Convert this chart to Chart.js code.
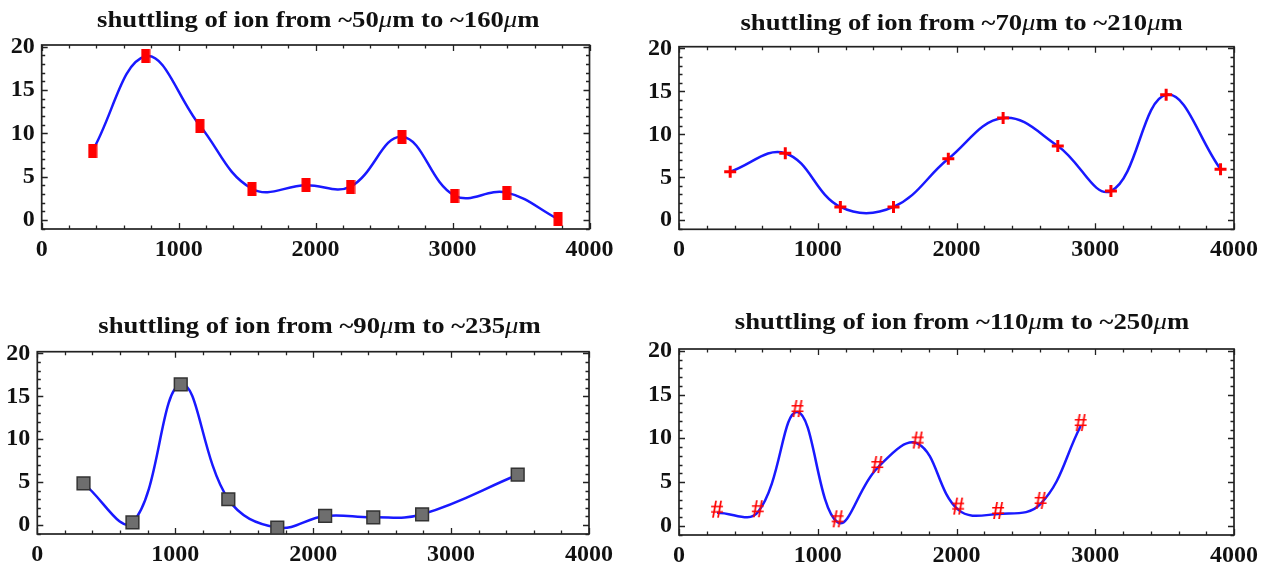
<!DOCTYPE html>
<html>
<head>
<meta charset="utf-8">
<title>shuttling of ion</title>
<script src="https://cdn.jsdelivr.net/npm/chart.js@4.4.0/dist/chart.umd.min.js"></script>
<style>
  body { margin: 0; background: #fff; }
  #wrap { position: relative; width: 1268px; height: 570px; }
  #wrap canvas { position: absolute; }
</style>
</head>
<body>
<div id="wrap">
  <canvas id="c1" width="634" height="285" style="left:0;top:0"></canvas>
  <canvas id="c2" width="634" height="285" style="left:634px;top:0"></canvas>
  <canvas id="c3" width="634" height="285" style="left:0;top:285px"></canvas>
  <canvas id="c4" width="634" height="285" style="left:634px;top:285px"></canvas>
</div>
<script>
// run 1: ~50um -> ~160um
const x1 = [372, 759, 1155, 1535, 1930, 2255, 2630, 3015, 3395, 3770];
const y1 = [8.0, 18.9, 10.9, 3.6, 4.0, 3.85, 9.6, 2.8, 3.15, 0.1];
// run 2: ~70um -> ~210um
const x2 = [369, 766, 1163, 1546, 1941, 2336, 2730, 3113, 3511, 3903];
const y2 = [5.65, 7.8, 1.55, 1.55, 7.15, 11.9, 8.65, 3.4, 14.6, 5.95];
// run 3: ~90um -> ~235um
const x3 = [335, 690, 1040, 1385, 1740, 2087, 2436, 2790, 3483];
const y3 = [4.85, 0.3, 16.4, 3.0, -0.3, 1.05, 0.9, 1.25, 5.86];
// run 4: ~110um -> ~250um
const x4 = [274, 568, 854, 1143, 1429, 1720, 2012, 2300, 2606, 2895];
const y4 = [1.5, 1.55, 13.0, 0.4, 6.6, 9.4, 1.85, 1.35, 2.5, 11.4];

const titles = [
  'shuttling of ion from ~50μm to ~160μm',
  'shuttling of ion from ~70μm to ~210μm',
  'shuttling of ion from ~90μm to ~235μm',
  'shuttling of ion from ~110μm to ~250μm'
];
const xTicks = [0, 1000, 2000, 3000, 4000];
const yTicks = [0, 5, 10, 15, 20];
const xMinor = 200, yMinor = 1;

// plot frame of each panel inside its canvas
const frames = [
  {left: 41.7, right: 589.5, top: 45, bottom: 229, tx: 318.3, ty: 27.3},
  {left: 45, right: 600, top: 46.7, bottom: 229.3, tx: 327.6, ty: 30},
  {left: 37.3, right: 589, top: 66.7, bottom: 249, tx: 319.5, ty: 47.7},
  {left: 45, right: 600, top: 64, bottom: 250, tx: 328, ty: 44.3}
];

const serif = '"Liberation Serif", "Times New Roman", serif';

function markImage(w, h, draw) {
  const c = document.createElement('canvas');
  c.width = w; c.height = h;
  draw(c.getContext('2d'), w, h);
  return c;
}
const redBar = markImage(10, 14, (g, w, h) => {
  g.fillStyle = '#ff0000';
  g.fillRect(0.5, 0, w - 1, h);
});
const hashMark = markImage(22, 28, (g, w, h) => {
  g.fillStyle = '#ff0000';
  g.font = 'bold 25px ' + serif;
  g.textAlign = 'center';
  g.textBaseline = 'middle';
  g.fillText('#', w / 2, h / 2 - 1);
});

// frame with inward major/minor ticks on all four sides
const frameTicks = {
  id: 'frameTicks',
  beforeDatasetsDraw(chart) {
    const {ctx, chartArea: a, scales: {x, y}} = chart;
    ctx.save();
    ctx.strokeStyle = '#222';
    ctx.lineWidth = 1.3;
    ctx.beginPath();
    for (let v = x.min; v <= x.max; v += xMinor) {
      const px = Math.round(x.getPixelForValue(v)) + 0.5;
      const len = xTicks.includes(v) ? 6 : 3.5;
      ctx.moveTo(px, a.bottom); ctx.lineTo(px, a.bottom - len);
      ctx.moveTo(px, a.top); ctx.lineTo(px, a.top + len);
    }
    for (let v = Math.ceil(y.min); v <= y.max; v += yMinor) {
      const py = Math.round(y.getPixelForValue(v)) + 0.5;
      const len = yTicks.includes(v) ? 6 : 3.5;
      ctx.moveTo(a.left, py); ctx.lineTo(a.left + len, py);
      ctx.moveTo(a.right, py); ctx.lineTo(a.right - len, py);
    }
    ctx.stroke();
    ctx.lineWidth = 1.7;
    ctx.strokeRect(a.left, a.top, a.right - a.left, a.bottom - a.top);
    ctx.restore();
  }
};

// title with the mu drawn in italic, set a little wide
const splitTitle = {
  id: 'splitTitle',
  afterDraw(chart, args, opts) {
    const ctx = chart.ctx;
    const up = 'bold 23px ' + serif, it = 'italic 23px ' + serif;
    const bits = [];
    opts.text.split('μ').forEach((s, i) => {
      if (i > 0) bits.push({t: 'μ', f: it});
      bits.push({t: s, f: up});
    });
    ctx.save();
    let w = 0;
    bits.forEach(b => { ctx.font = b.f; b.w = ctx.measureText(b.t).width; w += b.w; });
    ctx.translate(opts.x, opts.y);
    ctx.scale(1.16, 1);
    let px = -w / 2;
    ctx.fillStyle = '#111';
    ctx.textBaseline = 'alphabetic';
    bits.forEach(b => { ctx.font = b.f; ctx.fillText(b.t, px, 0); px += b.w; });
    ctx.restore();
  }
};

function makeChart(id, xs, ys, title, f, marks) {
  const pts = xs.map((v, i) => ({x: v, y: ys[i]}));
  const tickFont = {family: serif, size: 24, weight: 'bold'};
  return new Chart(document.getElementById(id), {
    type: 'line',
    data: {
      datasets: [Object.assign({
        data: pts,
        borderColor: 'rgb(25,25,255)',
        borderWidth: 2.5,
        tension: 0.4,
        fill: false
      }, marks)]
    },
    options: {
      responsive: false,
      animation: false,
      layout: {padding: {top: f.top, right: 634 - f.right, left: 0, bottom: 0}},
      plugins: {
        legend: {display: false},
        title: {display: false},
        tooltip: {enabled: false},
        splitTitle: {text: title, x: f.tx, y: f.ty}
      },
      scales: {
        x: {
          type: 'linear', min: 0, max: 4000,
          grid: {display: false, drawTicks: false},
          border: {display: false},
          afterBuildTicks: s => { s.ticks = xTicks.map(v => ({value: v})); },
          afterFit: s => { s.height = 285 - f.bottom; },
          ticks: {
            font: tickFont, color: '#111', padding: 6, maxRotation: 0, autoSkip: false,
            callback: v => String(v)
          }
        },
        y: {
          min: -1.05, max: 20.2,
          grid: {display: false, drawTicks: false},
          border: {display: false},
          afterBuildTicks: s => { s.ticks = yTicks.map(v => ({value: v})); },
          afterFit: s => { s.width = f.left; },
          ticks: {font: tickFont, color: '#111', padding: 7, callback: v => String(v)}
        }
      }
    },
    plugins: [frameTicks, splitTitle]
  });
}

makeChart('c1', x1, y1, titles[0], frames[0], {pointStyle: redBar, pointRadius: 6});
makeChart('c2', x2, y2, titles[1], frames[1], {
  pointStyle: 'cross', pointRadius: 6, pointBorderWidth: 3, pointBorderColor: '#ff0000'
});
makeChart('c3', x3, y3, titles[2], frames[2], {
  pointStyle: 'rect', pointRadius: 9, pointBackgroundColor: '#6e6e6e',
  pointBorderColor: '#333', pointBorderWidth: 1.5
});
makeChart('c4', x4, y4, titles[3], frames[3], {pointStyle: hashMark, pointRadius: 9});
</script>
</body>
</html>
